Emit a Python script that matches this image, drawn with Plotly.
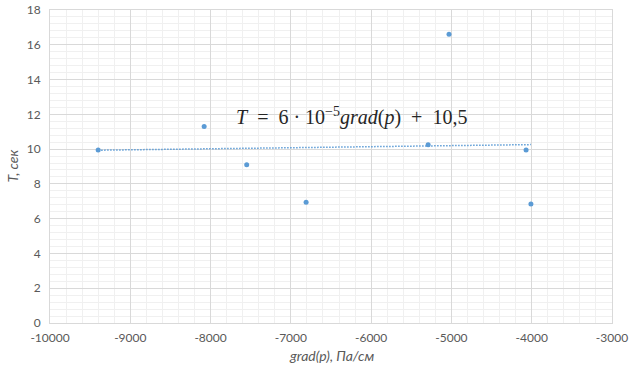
import plotly.graph_objects as go

grad_p = [-9400, -8080, -7550, -6810, -5290, -5030, -4070, -4010]
T_sec = [9.95, 11.3, 9.1, 6.95, 10.25, 16.6, 9.95, 6.85]
trend_slope = 6e-5
trend_intercept = 10.5

x_ticks = [-10000, -9000, -8000, -7000, -6000, -5000, -4000, -3000]
x_tick_labels = ["-10000", "-9000", "-8000", "-7000", "-6000", "-5000", "-4000", "-3000"]
y_ticks = [0, 2, 4, 6, 8, 10, 12, 14, 16, 18]

tx = [min(grad_p), max(grad_p)]
ty = [trend_slope * v + trend_intercept for v in tx]

blue = "#5B9BD5"
fig = go.Figure()
fig.add_trace(go.Scatter(x=tx, y=ty, mode="lines",
                         line=dict(color=blue, width=1.5, dash="1.5px,1.5px"),
                         showlegend=False, hoverinfo="skip"))
fig.add_trace(go.Scatter(x=grad_p, y=T_sec, mode="markers",
                         marker=dict(color=blue, size=5),
                         showlegend=False))

fig.add_annotation(x=-6240, y=11.9, xref="x", yref="y", showarrow=False,
                   text="<i>T</i>  =  6 · 10<sup>−5</sup><i>grad</i>(<i>p</i>)  +  10,5",
                   font=dict(family="Liberation Serif", size=20, color="#262626"))

title_font = dict(family="Lato", size=14, color="#595959")
fig.add_annotation(x=0.5, y=0, xref="paper", yref="paper", showarrow=False,
                   yshift=-32, text="<i>grad(p), Па/см</i>", font=title_font,
                   yanchor="middle")
fig.add_annotation(x=0, y=0.5, xref="paper", yref="paper", showarrow=False,
                   xshift=-38, text="<i>T, сек</i>", font=title_font, textangle=-90,
                   xanchor="center")

tickfont = dict(family="Lato", size=12, color="#595959")
fig.update_xaxes(range=[-10000, -3000], tickvals=x_ticks, ticktext=x_tick_labels,
                 tickfont=tickfont, automargin=False, ticklabeloverflow="allow",
                 showgrid=True, gridcolor="#d9d9d9", gridwidth=1,
                 minor=dict(dtick=200, showgrid=True, gridcolor="#f0f0f0", gridwidth=1),
                 zeroline=False, showline=True, linecolor="#d9d9d9", mirror=True,
                 ticks="", ticklabelstandoff=4)
fig.update_yaxes(range=[0, 18], tickvals=y_ticks, tickfont=tickfont, automargin=False,
                 ticklabeloverflow="allow",
                 showgrid=True, gridcolor="#d9d9d9", gridwidth=1,
                 minor=dict(dtick=0.4, showgrid=True, gridcolor="#f0f0f0", gridwidth=1),
                 zeroline=False, showline=True, linecolor="#d9d9d9", mirror=True,
                 ticks="", ticklabelstandoff=6)
fig.update_layout(width=632, height=372, margin=dict(l=50, r=20, t=10, b=49),
                  plot_bgcolor="white", paper_bgcolor="white")
fig.write_html("out.html", config={"displayModeBar": False},
               post_script="document.body.style.margin='0';document.body.style.overflow='hidden';")
